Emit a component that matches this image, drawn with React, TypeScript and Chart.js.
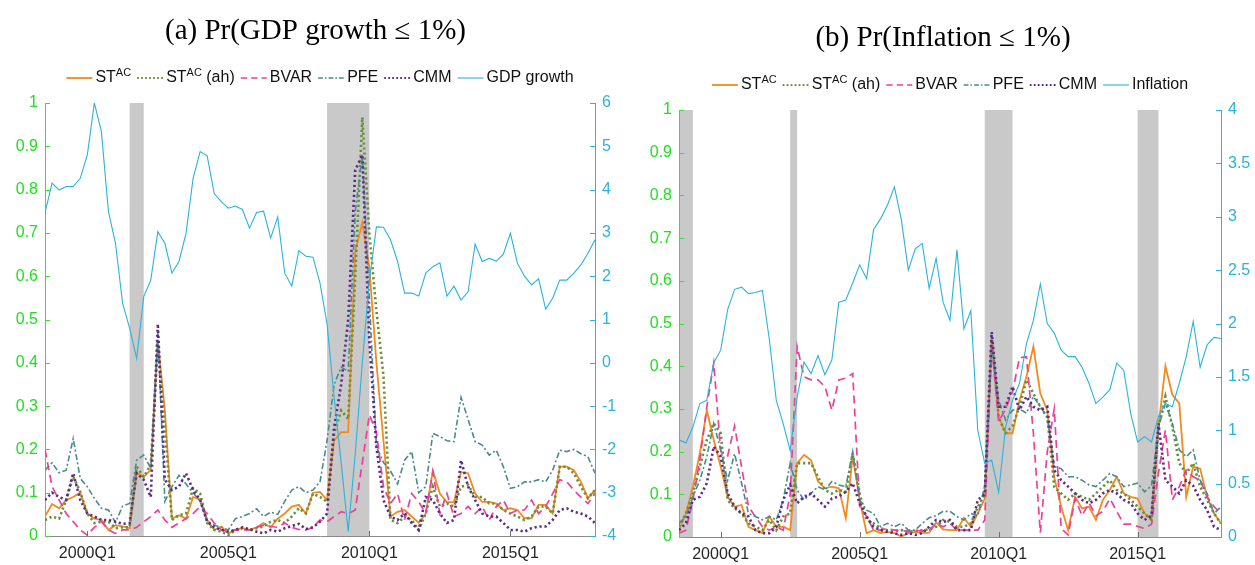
import React, { useEffect, useRef } from 'react';
import { Chart, registerables } from 'chart.js';
Chart.register(...registerables);

// ---------------- DATA ----------------
// quarterly observations, 1998Q3 .. 2018Q1 (index 0..78)
const xTickIndex = [6, 26, 46, 66];
const xTickLabels = ['2000Q1', '2005Q1', '2010Q1', '2015Q1'];

const seriesNamesA = ['ST^AC', 'ST^AC (ah)', 'BVAR', 'PFE', 'CMM', 'GDP growth'];
const seriesNamesB = ['ST^AC', 'ST^AC (ah)', 'BVAR', 'PFE', 'CMM', 'Inflation'];

// recession periods as [start index, end index]
const bandsA = [[12, 14], [40, 46]];
const bandsB = [[0, 2], [16, 17], [44, 48], [66, 69]];

// Panel (a)
const gdpGrowth = [3.46,4.15,3.99,4.07,4.07,4.26,4.8,6.0,5.34,3.49,
 2.76,1.38,0.8,0.1,1.53,1.91,3.03,2.76,2.07,2.34,
 2.99,4.26,4.88,4.78,3.91,3.72,3.57,3.62,3.54,3.11,
 3.47,3.5,2.88,3.37,2.07,1.77,2.59,2.46,2.44,1.84,
 0.9,-0.8,-2.3,-3.9,-2.1,0.0,1.9,3.14,3.13,2.84,
 2.34,1.61,1.61,1.54,2.07,2.22,2.31,1.54,1.77,1.45,
 1.64,2.74,2.34,2.41,2.35,2.51,2.99,2.3,2.0,1.8,
 1.94,1.24,1.49,1.91,1.91,2.07,2.26,2.53,2.84];
const stacA = [0.045,0.074,0.064,0.083,0.09,0.10,0.052,0.04,0.037,0.014,
 0.025,0.022,0.018,0.145,0.137,0.152,0.45,0.29,0.04,0.048,
 0.04,0.09,0.085,0.037,0.014,0.022,0.006,0.014,0.018,0.014,
 0.02,0.03,0.02,0.04,0.052,0.068,0.072,0.052,0.1,0.102,
 0.083,0.22,0.24,0.24,0.657,0.724,0.62,0.40,0.22,0.045,
 0.056,0.06,0.045,0.031,0.052,0.151,0.098,0.078,0.079,0.148,
 0.145,0.098,0.079,0.079,0.075,0.06,0.064,0.06,0.041,0.041,
 0.072,0.072,0.052,0.16,0.16,0.152,0.125,0.087,0.106];
const stacAhA = [0.037,0.045,0.04,0.083,0.137,0.102,0.052,0.03,0.033,0.033,
 0.018,0.02,0.02,0.16,0.137,0.164,0.445,0.25,0.037,0.048,
 0.052,0.11,0.098,0.03,0.014,0.01,0.002,0.014,0.018,0.014,
 0.018,0.022,0.033,0.037,0.03,0.045,0.064,0.052,0.098,0.09,
 0.079,0.237,0.29,0.27,0.6,0.967,0.70,0.52,0.37,0.037,
 0.03,0.045,0.037,0.014,0.052,0.114,0.068,0.075,0.068,0.114,
 0.118,0.09,0.09,0.075,0.075,0.06,0.052,0.045,0.037,0.045,
 0.068,0.068,0.052,0.16,0.16,0.145,0.114,0.087,0.106];
const bvarA = [0.2,0.114,0.083,0.052,0.033,0.014,0.002,0.02,0.033,0.014,
 0.006,0.014,0.014,0.02,0.033,0.045,0.06,0.037,0.02,0.03,
 0.04,0.052,0.068,0.052,0.03,0.014,0.01,0.014,0.014,0.014,
 0.02,0.025,0.022,0.02,0.03,0.02,0.015,0.014,0.02,0.037,
 0.033,0.045,0.056,0.052,0.06,0.17,0.28,0.24,0.114,0.075,
 0.098,0.037,0.098,0.079,0.052,0.148,0.052,0.098,0.045,0.052,
 0.068,0.052,0.068,0.037,0.068,0.083,0.052,0.06,0.06,0.083,
 0.052,0.068,0.098,0.13,0.125,0.106,0.09,0.075,0.098];
const pfeA = [0.152,0.169,0.146,0.152,0.225,0.133,0.114,0.087,0.064,0.06,
 0.031,0.069,0.075,0.175,0.187,0.156,0.47,0.08,0.114,0.14,
 0.12,0.10,0.08,0.035,0.025,0.02,0.014,0.04,0.045,0.052,
 0.063,0.045,0.055,0.05,0.08,0.106,0.114,0.1,0.106,0.125,
 0.22,0.35,0.39,0.38,0.75,0.88,0.55,0.206,0.17,0.15,
 0.12,0.175,0.195,0.10,0.114,0.237,0.23,0.22,0.218,0.32,
 0.27,0.218,0.21,0.187,0.198,0.16,0.11,0.114,0.125,0.125,
 0.13,0.125,0.152,0.198,0.195,0.2,0.19,0.183,0.145];
const cmmA = [0.083,0.1,0.09,0.083,0.145,0.083,0.052,0.045,0.037,0.037,
 0.033,0.028,0.03,0.145,0.13,0.09,0.49,0.13,0.106,0.114,
 0.145,0.106,0.083,0.033,0.02,0.014,0.01,0.014,0.02,0.016,
 0.01,0.006,0.014,0.01,0.018,0.023,0.028,0.016,0.02,0.033,
 0.052,0.25,0.35,0.5,0.845,0.88,0.45,0.206,0.083,0.045,
 0.037,0.052,0.03,0.014,0.09,0.083,0.052,0.03,0.037,0.175,
 0.114,0.083,0.052,0.045,0.045,0.03,0.014,0.014,0.01,0.018,
 0.022,0.022,0.037,0.06,0.064,0.056,0.052,0.045,0.03];

// Panel (b)
const inflation = [0.91,0.88,1.03,1.25,1.28,1.63,1.75,2.13,2.32,2.34,
 2.28,2.29,2.31,1.85,1.28,1.06,0.81,1.31,1.64,1.53,
 1.70,1.52,1.66,2.2,2.22,2.38,2.55,2.42,2.88,2.98,
 3.11,3.28,2.97,2.50,2.70,2.75,2.33,2.61,2.20,2.03,
 2.69,1.95,2.12,1.0,0.69,0.72,0.42,1.03,1.28,1.44,
 1.81,2.03,2.37,2.0,1.91,1.75,1.69,1.69,1.59,1.44,
 1.25,1.31,1.38,1.63,1.56,1.16,0.89,0.94,0.89,1.13,
 1.25,1.22,1.44,1.69,2.02,1.59,1.8,1.87,1.86];
const stacB = [0.016,0.055,0.118,0.196,0.297,0.227,0.165,0.094,0.071,0.075,
 0.024,0.016,0.009,0.048,0.024,0.024,0.016,0.173,0.192,0.18,
 0.13,0.114,0.118,0.114,0.044,0.188,0.087,0.009,0.016,0.009,
 0.012,0.009,0.001,0.009,0.012,0.009,0.01,0.034,0.018,0.016,
 0.016,0.045,0.024,0.055,0.09,0.461,0.282,0.243,0.243,0.32,
 0.375,0.446,0.336,0.297,0.14,0.071,0.016,0.094,0.067,0.071,
 0.04,0.087,0.11,0.141,0.102,0.094,0.09,0.055,0.04,0.258,
 0.4,0.333,0.313,0.094,0.165,0.16,0.094,0.055,0.032];
const stacAhB = [0.024,0.055,0.102,0.165,0.227,0.266,0.243,0.087,0.067,0.055,
 0.032,0.024,0.016,0.04,0.016,0.048,0.055,0.173,0.173,0.173,
 0.141,0.11,0.102,0.11,0.106,0.196,0.102,0.04,0.032,0.02,
 0.016,0.014,0.016,0.012,0.014,0.016,0.018,0.024,0.04,0.036,
 0.024,0.024,0.032,0.07,0.1,0.47,0.28,0.243,0.26,0.305,
 0.368,0.336,0.305,0.28,0.118,0.102,0.087,0.102,0.094,0.087,
 0.102,0.118,0.133,0.11,0.102,0.087,0.071,0.055,0.04,0.258,
 0.329,0.258,0.173,0.149,0.173,0.118,0.087,0.055,0.032];
const bvarB = [0.009,0.016,0.087,0.18,0.305,0.407,0.2,0.19,0.26,0.165,
 0.071,0.048,0.024,0.016,0.024,0.016,0.1,0.446,0.375,0.368,
 0.368,0.352,0.297,0.368,0.372,0.383,0.071,0.048,0.016,0.016,
 0.02,0.016,0.016,0.012,0.016,0.014,0.016,0.032,0.024,0.032,
 0.016,0.016,0.016,0.016,0.04,0.45,0.27,0.3,0.34,0.42,
 0.422,0.243,0.01,0.2,0.3,0.02,0.005,0.09,0.05,0.08,
 0.05,0.06,0.09,0.06,0.03,0.03,0.025,0.02,0.03,0.15,
 0.25,0.087,0.118,0.157,0.141,0.133,0.094,0.071,0.055];
const pfeB = [0.032,0.048,0.094,0.133,0.188,0.266,0.204,0.133,0.195,0.126,
 0.055,0.048,0.04,0.048,0.04,0.087,0.173,0.11,0.087,0.102,
 0.118,0.11,0.13,0.122,0.118,0.2,0.087,0.063,0.055,0.024,
 0.032,0.024,0.032,0.016,0.016,0.032,0.045,0.05,0.06,0.06,
 0.048,0.04,0.055,0.05,0.12,0.446,0.321,0.274,0.297,0.3,
 0.29,0.329,0.305,0.28,0.165,0.16,0.141,0.141,0.133,0.122,
 0.118,0.133,0.149,0.141,0.118,0.122,0.126,0.106,0.12,0.258,
 0.313,0.266,0.204,0.188,0.204,0.133,0.102,0.055,0.071];
const cmmB = [0.016,0.032,0.087,0.094,0.126,0.212,0.188,0.102,0.071,0.055,
 0.048,0.016,0.009,0.009,0.024,0.087,0.122,0.079,0.094,0.102,
 0.087,0.071,0.09,0.095,0.106,0.126,0.079,0.048,0.024,0.016,
 0.012,0.009,0.005,0.009,0.005,0.009,0.024,0.04,0.035,0.04,
 0.016,0.016,0.016,0.087,0.1,0.48,0.305,0.305,0.352,0.297,
 0.329,0.305,0.297,0.305,0.157,0.133,0.118,0.102,0.087,0.079,
 0.087,0.102,0.11,0.102,0.087,0.079,0.055,0.04,0.05,0.266,
 0.133,0.118,0.102,0.133,0.12,0.087,0.063,0.024,0.016];

// ---------------- STYLE ----------------
const FONT = '"Liberation Sans", Arial, sans-serif';
const SERIF = '"Liberation Serif", "Times New Roman", serif';
const GREEN = '#2fe62f';
const GREEN_TXT = '#1ee01e';
const CYAN = '#2ab3dc';
const STYLES = [
  { color: '#f28a1e', dash: [], width: 1.8 },
  { color: '#6a8f3a', dash: [2.2, 2.8], width: 2.6 },
  { color: '#ee3f9b', dash: [8, 5], width: 1.7 },
  { color: '#4a8a8b', dash: [6, 2.5, 2, 2.5], width: 1.6 },
  { color: '#5b2a8c', dash: [2.2, 2.8], width: 2.6 },
  { color: CYAN, dash: [], width: 1.1 },
];

type PanelCfg = {
  left: number; width: number; top: number; xh: number; leftW: number; rightW: number;
  y2min: number; y2max: number; y2step: number;
  bands: number[][]; title: string; titleY: number; legendY: number; legendCX: number;
  names: string[]; series: number[][];
};

const panels: PanelCfg[] = [
  {
    left: 0, width: 627, top: 103, xh: 29, leftW: 45, rightW: 32,
    y2min: -4, y2max: 6, y2step: 1, bands: bandsA,
    title: '(a) Pr(GDP growth \u2264 1%)', titleY: 31, legendY: 78, legendCX: 320,
    names: seriesNamesA, series: [stacA, stacAhA, bvarA, pfeA, cmmA, gdpGrowth],
  },
  {
    left: 627, width: 628, top: 110, xh: 28, leftW: 52, rightW: 34,
    y2min: 0, y2max: 4, y2step: 0.5, bands: bandsB,
    title: '(b) Pr(Inflation \u2264 1%)', titleY: 38, legendY: 85, legendCX: 323,
    names: seriesNamesB, series: [stacB, stacAhB, bvarB, pfeB, cmmB, inflation],
  },
];

function parseName(n: string) {
  const i = n.indexOf('^');
  if (i < 0) return { base: n, sup: '', tail: '' };
  const rest = n.slice(i + 1);
  const sp = rest.indexOf(' ');
  return { base: n.slice(0, i), sup: sp < 0 ? rest : rest.slice(0, sp), tail: sp < 0 ? '' : rest.slice(sp) };
}

function drawLegend(ctx: CanvasRenderingContext2D, cx: number, cy: number, names: string[]) {
  const fs = 16, ss = 11, sample = 26, gapS = 3, gapI = 6;
  ctx.save();
  const parts = names.map(parseName);
  const widths = parts.map(p => {
    ctx.font = `${fs}px ${FONT}`;
    let w = ctx.measureText(p.base).width + ctx.measureText(p.tail).width;
    ctx.font = `${ss}px ${FONT}`;
    w += p.sup ? ctx.measureText(p.sup).width : 0;
    return w;
  });
  const total = widths.reduce((a, w) => a + sample + gapS + w, 0) + gapI * (names.length - 1);
  let x = cx - total / 2;
  parts.forEach((p, i) => {
    const st = STYLES[i];
    ctx.beginPath();
    ctx.setLineDash(st.dash.map(d => d * 0.8));
    ctx.lineWidth = Math.min(st.width, 1.8);
    ctx.strokeStyle = st.color;
    ctx.moveTo(x, cy);
    ctx.lineTo(x + sample, cy);
    ctx.stroke();
    ctx.setLineDash([]);
    x += sample + gapS;
    ctx.fillStyle = '#111';
    ctx.textAlign = 'left';
    ctx.textBaseline = 'middle';
    ctx.font = `${fs}px ${FONT}`;
    ctx.fillText(p.base, x, cy);
    x += ctx.measureText(p.base).width;
    if (p.sup) {
      ctx.font = `${ss}px ${FONT}`;
      ctx.fillText(p.sup, x, cy - 5);
      x += ctx.measureText(p.sup).width;
    }
    if (p.tail) {
      ctx.font = `${fs}px ${FONT}`;
      ctx.fillText(p.tail, x, cy);
      x += ctx.measureText(p.tail).width;
    }
    x += gapI;
  });
  ctx.restore();
}

function makePlugin(cfg: PanelCfg) {
  return {
    id: 'decor',
    beforeDraw(chart: any) {
      const { ctx, chartArea, scales } = chart;
      ctx.save();
      ctx.fillStyle = '#c9c9c9';
      cfg.bands.forEach(([a, b]) => {
        const x1 = scales.x.getPixelForValue(a);
        const x2 = scales.x.getPixelForValue(b);
        ctx.fillRect(x1, chartArea.top, x2 - x1, chartArea.bottom - chartArea.top);
      });
      ctx.restore();
    },
    afterDraw(chart: any) {
      const { ctx, chartArea, scales } = chart;
      ctx.save();
      // inward tick marks
      ctx.lineWidth = 1;
      ctx.strokeStyle = GREEN;
      scales.y.ticks.forEach((t: any) => {
        const y = Math.round(scales.y.getPixelForValue(t.value)) + 0.5;
        ctx.beginPath(); ctx.moveTo(chartArea.left, y); ctx.lineTo(chartArea.left + 5, y); ctx.stroke();
      });
      ctx.strokeStyle = CYAN;
      scales.y2.ticks.forEach((t: any) => {
        const y = Math.round(scales.y2.getPixelForValue(t.value)) + 0.5;
        ctx.beginPath(); ctx.moveTo(chartArea.right - 5, y); ctx.lineTo(chartArea.right, y); ctx.stroke();
      });
      ctx.strokeStyle = '#707070';
      xTickIndex.forEach(v => {
        const x = Math.round(scales.x.getPixelForValue(v)) + 0.5;
        ctx.beginPath(); ctx.moveTo(x, chartArea.bottom); ctx.lineTo(x, chartArea.bottom - 5); ctx.stroke();
      });
      // title
      ctx.fillStyle = '#000';
      ctx.font = `29px ${SERIF}`;
      ctx.textAlign = 'center';
      ctx.textBaseline = 'middle';
      ctx.fillText(cfg.title, chart.width / 2 + 2, cfg.titleY);
      ctx.restore();
      drawLegend(ctx, cfg.legendCX, cfg.legendY, cfg.names);
    },
  };
}

function Panel({ cfg }: { cfg: PanelCfg }) {
  const ref = useRef<HTMLCanvasElement>(null);
  useEffect(() => {
    if (!ref.current) return;
    const datasets = cfg.series.map((s, i) => ({
      label: cfg.names[i],
      data: s.map((v, k) => ({ x: k, y: v })),
      borderColor: STYLES[i].color,
      backgroundColor: STYLES[i].color,
      borderDash: STYLES[i].dash,
      borderWidth: STYLES[i].width,
      borderCapStyle: 'butt',
      pointRadius: 0,
      tension: 0,
      fill: false,
      yAxisID: i === 5 ? 'y2' : 'y',
      order: 5 - i,
    }));
    const chart = new Chart(ref.current, {
      type: 'line',
      data: { datasets } as any,
      plugins: [makePlugin(cfg) as any],
      options: {
        animation: false,
        responsive: false,
        layout: { padding: { top: cfg.top, left: 0, right: 0, bottom: 0 } },
        plugins: { legend: { display: false }, title: { display: false }, tooltip: { enabled: false } },
        scales: {
          x: {
            type: 'linear', min: 0, max: 78,
            grid: { display: false, drawTicks: false },
            border: { display: true, color: '#8a8a8a', width: 1 },
            ticks: {
              autoSkip: false, maxRotation: 0, color: '#262626', padding: 8,
              font: { family: FONT, size: 16 },
              callback: (v: any) => {
                const k = xTickIndex.indexOf(Number(v));
                return k >= 0 ? xTickLabels[k] : '';
              },
            },
            afterBuildTicks: (s: any) => { s.ticks = xTickIndex.map(v => ({ value: v })); },
            afterFit: (s: any) => { s.height = cfg.xh; },
          },
          y: {
            position: 'left', min: 0, max: 1,
            grid: { display: false, drawTicks: false },
            border: { display: true, color: GREEN, width: 1 },
            ticks: {
              stepSize: 0.1, color: GREEN_TXT, padding: 7,
              font: { family: FONT, size: 16 },
              callback: (v: any) => String(Math.round(Number(v) * 10) / 10),
            },
            afterFit: (s: any) => { s.width = cfg.leftW; },
          },
          y2: {
            position: 'right', min: cfg.y2min, max: cfg.y2max,
            grid: { display: false, drawTicks: false },
            border: { display: true, color: CYAN, width: 1 },
            ticks: {
              stepSize: cfg.y2step, color: CYAN, padding: 7,
              font: { family: FONT, size: 16 },
              callback: (v: any) => String(Math.round(Number(v) * 10) / 10),
            },
            afterFit: (s: any) => { s.width = cfg.rightW; },
          },
        },
      } as any,
    });
    return () => chart.destroy();
  }, [cfg]);
  return (
    <div style={{ position: 'absolute', left: cfg.left, top: 0, width: cfg.width, height: 565 }}>
      <canvas ref={ref} width={cfg.width} height={565} style={{ display: 'block' }} />
    </div>
  );
}

export default function App() {
  return (
    <div style={{ position: 'absolute', left: 0, top: 0, width: 1255, height: 565, background: '#fff' }}>
      {panels.map((p, i) => <Panel key={i} cfg={p} />)}
    </div>
  );
}
